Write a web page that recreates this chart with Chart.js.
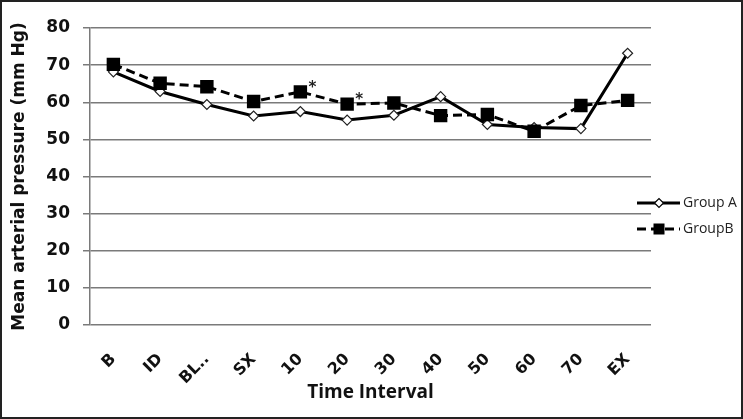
<!DOCTYPE html>
<html>
<head>
<meta charset="utf-8">
<script src="https://cdn.jsdelivr.net/npm/chart.js@4.4.1/dist/chart.umd.min.js"></script>
<style>
  html, body { margin: 0; padding: 0; background: #fff; }
  canvas { display: block; }
</style>
</head>
<body>
<canvas id="c" width="743" height="419"></canvas>
<script>
const categories = ['B', 'ID', 'BL..', 'SX', '10', '20', '30', '40', '50', '60', '70', 'EX'];
const groupA = [68.2, 62.9, 59.4, 56.3, 57.5, 55.2, 56.5, 61.5, 54.0, 53.2, 52.9, 73.2];
const groupB = [70.2, 65.1, 64.2, 60.2, 62.8, 59.5, 59.8, 56.4, 56.7, 52.2, 59.1, 60.5];
const groupBMarks = ['', '', '', '', '*', '*', '', '', '', '', '', ''];
const yTicks = [0, 10, 20, 30, 40, 50, 60, 70, 80];
const seriesNames = ['Group A', 'GroupB'];

const frameAndExtras = {
  id: 'frameAndExtras',
  beforeDraw(chart) {
    const ctx = chart.ctx;
    ctx.save();
    ctx.fillStyle = '#fff';
    ctx.fillRect(0, 0, chart.width, chart.height);
    ctx.restore();
  },
  afterDraw(chart) {
    const ctx = chart.ctx;
    ctx.save();
    // asterisks for group B
    const meta = chart.getDatasetMeta(1);
    ctx.fillStyle = '#222';
    ctx.font = 'bold 15px "DejaVu Sans"';
    ctx.textAlign = 'center';
    ctx.textBaseline = 'middle';
    meta.data.forEach((pt, i) => {
      if (groupBMarks[i]) ctx.fillText(groupBMarks[i], pt.x + 12, pt.y - 4);
    });
    // legend
    const items = [
      { y: 203, ds: chart.data.datasets[0] },
      { y: 229, ds: chart.data.datasets[1] }
    ];
    items.forEach((it, k) => {
      const ds = it.ds;
      ctx.strokeStyle = ds.borderColor;
      ctx.lineWidth = ds.borderWidth;
      ctx.setLineDash(ds.borderDash || []);
      ctx.beginPath();
      ctx.moveTo(637, it.y);
      ctx.lineTo(680, it.y);
      ctx.stroke();
      ctx.setLineDash([]);
      const cx = 659, cy = it.y;
      if (k === 0) {
        ctx.fillStyle = '#fff';
        ctx.lineWidth = 1.2;
        ctx.beginPath();
        ctx.moveTo(cx - 4.5, cy); ctx.lineTo(cx, cy - 4.5);
        ctx.lineTo(cx + 4.5, cy); ctx.lineTo(cx, cy + 4.5);
        ctx.closePath(); ctx.fill(); ctx.stroke();
      } else {
        ctx.fillStyle = '#000';
        ctx.fillRect(cx - 5.5, cy - 5.5, 11, 11);
      }
      ctx.fillStyle = '#222';
      ctx.font = '14px "Open Sans"';
      ctx.textAlign = 'left';
      ctx.textBaseline = 'middle';
      ctx.fillText(seriesNames[k], 683, it.y);
    });
    // outer frame
    ctx.strokeStyle = '#222';
    ctx.lineWidth = 2;
    ctx.strokeRect(1, 1, chart.width - 2, chart.height - 2);
    ctx.restore();
  }
};

new Chart(document.getElementById('c'), {
  type: 'line',
  data: {
    labels: categories,
    datasets: [
      {
        label: seriesNames[0],
        data: groupA,
        borderColor: '#000',
        borderWidth: 3,
        pointStyle: 'rectRot',
        pointRadius: 5,
        pointBackgroundColor: '#fff',
        pointBorderColor: '#222',
        pointBorderWidth: 1.2,
        tension: 0,
        order: 1
      },
      {
        label: seriesNames[1],
        data: groupB,
        borderColor: '#000',
        borderWidth: 3,
        borderDash: [9, 5],
        pointStyle: 'rect',
        pointRadius: 9.5,
        pointBackgroundColor: '#000',
        pointBorderColor: '#000',
        pointBorderWidth: 0,
        tension: 0,
        order: 0
      }
    ]
  },
  options: {
    responsive: false,
    animation: false,
    layout: { padding: { top: 28, right: 92, left: 0, bottom: 0 } },
    plugins: {
      legend: { display: false },
      tooltip: { enabled: false }
    },
    scales: {
      x: {
        offset: true,
        grid: { display: false, drawTicks: false },
        border: { display: false },
        ticks: {
          minRotation: 45,
          maxRotation: 45,
          padding: 25,
          color: '#111',
          font: { family: '"DejaVu Sans"', weight: 'bold', size: 16 }
        },
        title: {
          display: true,
          text: 'Time Interval',
          color: '#111',
          font: { family: '"Open Sans"', weight: 'bold', size: 19 },
          padding: { top: 0, bottom: 15 }
        },
        afterFit(scale) { scale.height = 94; }
      },
      y: {
        min: 0,
        max: 80,
        afterBuildTicks(scale) { scale.ticks = yTicks.map(v => ({ value: v })); },
        grid: { color: '#7a7a7a', lineWidth: 1.5, tickLength: 7, drawTicks: true },
        border: { display: true, color: '#7a7a7a', width: 1.5 },
        ticks: {
          padding: 13,
          color: '#111',
          font: { family: '"DejaVu Sans"', weight: 'bold', size: 17 }
        },
        title: {
          display: true,
          text: 'Mean arterial pressure (mm Hg)',
          color: '#111',
          font: { family: '"DejaVu Sans"', weight: 'bold', size: 17 },
          padding: { top: 9, bottom: 0 }
        },
        afterFit(scale) { scale.width = 90; }
      }
    }
  },
  plugins: [frameAndExtras]
});
</script>
</body>
</html>
